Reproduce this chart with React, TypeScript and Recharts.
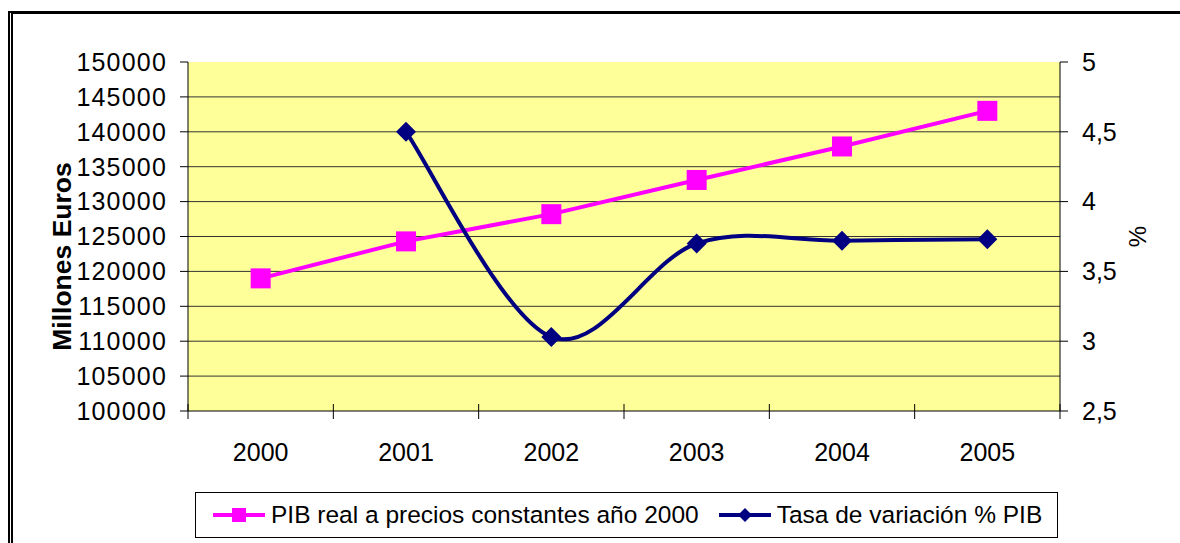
import { ComposedChart, Line, XAxis, YAxis, CartesianGrid, Legend } from 'recharts'

const years = ['2000', '2001', '2002', '2003', '2004', '2005']
const pibReal = [119000, 124300, 128200, 133100, 137900, 143000]
const tasaVariacion = [null, 4.5, 3.03, 3.7, 3.72, 3.73]

const leftTicks = [100000, 105000, 110000, 115000, 120000, 125000, 130000, 135000, 140000, 145000, 150000]
const gridValues = [105000, 110000, 115000, 120000, 125000, 130000, 135000, 140000, 145000]
const rightTicks = [2.5, 3, 3.5, 4, 4.5, 5]

const PIB_NAME = 'PIB real a precios constantes año 2000'
const TASA_NAME = 'Tasa de variación % PIB'

const PINK = '#FF00FF'
const NAVY = '#000080'
const FONT = '"Liberation Sans", Arial, sans-serif'

const X_TICK_SIZE = 8
const X_TICK_MARGIN = 24

const data = years.map((year, i) => ({ year, pib: pibReal[i], tasa: tasaVariacion[i] }))

// Excel-style smoothed line (Catmull-Rom through the points)
function smoothCurve(context: any) {
  let pts: number[][] = []
  return {
    areaStart() {},
    areaEnd() {},
    lineStart() {
      pts = []
    },
    lineEnd() {
      if (!pts.length) return
      context.moveTo(pts[0][0], pts[0][1])
      for (let i = 0; i < pts.length - 1; i++) {
        const p0 = pts[i - 1] || pts[i]
        const p1 = pts[i]
        const p2 = pts[i + 1]
        const p3 = pts[i + 2] || p2
        const t = 1 / 6
        context.bezierCurveTo(
          p1[0] + (p2[0] - p0[0]) * t,
          p1[1] + (p2[1] - p0[1]) * t,
          p2[0] - (p3[0] - p1[0]) * t,
          p2[1] - (p3[1] - p1[1]) * t,
          p2[0],
          p2[1]
        )
      }
    },
    point(x: number, y: number) {
      pts.push([+x, +y])
    },
  }
}

const SquareDot = (props: any) => {
  const { cx, cy, index } = props
  if (cx == null || cy == null) return <g key={`s-${index}`} />
  return <rect key={`s-${index}`} x={cx - 10} y={cy - 10} width={20} height={20} fill={PINK} />
}

const DiamondDot = (props: any) => {
  const { cx, cy, index } = props
  if (cx == null || cy == null) return <g key={`d-${index}`} />
  return (
    <path
      key={`d-${index}`}
      d={`M${cx},${cy - 10}L${cx + 10},${cy}L${cx},${cy + 10}L${cx - 10},${cy}Z`}
      fill={NAVY}
    />
  )
}

// category label plus Excel-style tick marks on the category boundaries
const YearTick = (props: any) => {
  const { x, y, payload, visibleTicksCount } = props
  const half = payload?.offset ?? 0
  const axisY = y - X_TICK_SIZE - X_TICK_MARGIN
  const edges = [x - half]
  if (payload.index === visibleTicksCount - 1) edges.push(x + half)
  return (
    <g>
      {edges.map((ex, i) => (
        <line key={i} x1={ex} x2={ex} y1={axisY - 7} y2={axisY + 8} stroke="#000" strokeWidth={1} />
      ))}
      <text x={x} y={y} dy="0.71em" textAnchor="middle" fill="#000" fontSize={25} fontFamily={FONT}>
        {payload.value}
      </text>
    </g>
  )
}

const LegendContent = () => (
  <div
    style={{
      display: 'flex',
      alignItems: 'center',
      height: '100%',
      paddingLeft: 17,
      fontFamily: FONT,
      fontSize: 24.5,
      color: '#000',
      whiteSpace: 'nowrap',
    }}
  >
    <svg width={52} height={24}>
      <line x1={0} y1={12} x2={52} y2={12} stroke={PINK} strokeWidth={4} />
      <rect x={19} y={5} width={14} height={14} fill={PINK} />
    </svg>
    <span style={{ marginLeft: 6 }}>{PIB_NAME}</span>
    <svg width={52} height={24} style={{ marginLeft: 20 }}>
      <line x1={0} y1={12} x2={52} y2={12} stroke={NAVY} strokeWidth={4} />
      <path d="M26,5L33,12L26,19L19,12Z" fill={NAVY} />
    </svg>
    <span style={{ marginLeft: 6 }}>{TASA_NAME}</span>
  </div>
)

const LeftLabel = (props: any) => {
  const { viewBox } = props
  const x = viewBox.x + 22
  const y = viewBox.y + viewBox.height / 2 + 20
  return (
    <text
      x={x}
      y={y}
      transform={`rotate(-90, ${x}, ${y})`}
      textAnchor="middle"
      dominantBaseline="central"
      fontFamily={FONT}
      fontWeight="bold"
      fontSize={26.5}
      fill="#000"
    >
      Millones Euros
    </text>
  )
}

const RightLabel = (props: any) => {
  const { viewBox } = props
  const x = viewBox.x + 77
  const y = viewBox.y + viewBox.height / 2
  return (
    <text
      x={x}
      y={y}
      transform={`rotate(-90, ${x}, ${y})`}
      textAnchor="middle"
      dominantBaseline="central"
      fontFamily={FONT}
      fontSize={24}
      fill="#000"
    >
      %
    </text>
  )
}

const tickStyle = { fill: '#000', fontSize: 25, fontFamily: FONT }
const leftTickStyle = { ...tickStyle, letterSpacing: 1.2 }

export default function App() {
  return (
    <div style={{ position: 'absolute', left: 0, top: 0, width: 1180, height: 543, background: '#fff' }}>
      <div
        style={{
          position: 'absolute',
          left: 8,
          top: 11,
          width: 1180,
          height: 543,
          borderTop: '3px solid #000',
          borderLeft: '5px double #000',
        }}
      />
      <div style={{ position: 'absolute', left: 0, top: 0 }}>
        <ComposedChart width={1180} height={543} data={data} margin={{ top: 62, right: 0, bottom: 5, left: 40 }}>
          <CartesianGrid
            xAxisId="cat"
            yAxisId="left"
            vertical={false}
            horizontalValues={gridValues}
            stroke="#333"
            fill="#FFFF99"
            fillOpacity={1}
          />
          <XAxis
            xAxisId="cat"
            dataKey="year"
            scale="band"
            stroke="#000"
            tickLine={false}
            tickSize={X_TICK_SIZE}
            tickMargin={X_TICK_MARGIN}
            height={81}
            tick={YearTick}
          />
          <YAxis
            yAxisId="left"
            domain={[100000, 150000]}
            ticks={leftTicks}
            width={148}
            tickSize={8}
            tickMargin={13}
            stroke="#000"
            tick={leftTickStyle}
            label={LeftLabel}
          />
          <YAxis
            yAxisId="right"
            orientation="right"
            domain={[2.5, 5]}
            ticks={rightTicks}
            width={120}
            tickSize={8}
            tickMargin={14}
            stroke="#000"
            tick={tickStyle}
            tickFormatter={(v: number) => String(v).replace('.', ',')}
            label={RightLabel}
          />
          <Legend
            verticalAlign="bottom"
            content={LegendContent}
            wrapperStyle={{ left: 195, width: 863, height: 46, border: '1px solid #000', boxSizing: 'border-box' }}
          />
          <Line
            xAxisId="cat"
            yAxisId="left"
            dataKey="pib"
            name={PIB_NAME}
            type="linear"
            stroke={PINK}
            strokeWidth={4}
            dot={SquareDot}
            activeDot={false}
            isAnimationActive={false}
          />
          <Line
            xAxisId="cat"
            yAxisId="right"
            dataKey="tasa"
            name={TASA_NAME}
            type={smoothCurve as any}
            stroke={NAVY}
            strokeWidth={4}
            dot={DiamondDot}
            activeDot={false}
            isAnimationActive={false}
          />
        </ComposedChart>
      </div>
    </div>
  )
}
